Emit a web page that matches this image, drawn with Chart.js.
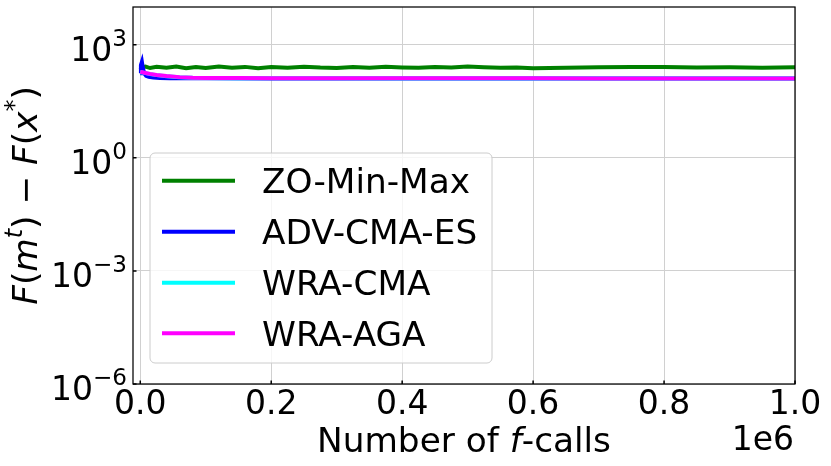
<!DOCTYPE html>
<html>
<head>
  <title>F(m^t) - F(x*) vs number of f-calls</title>
  <style>
    body {
      margin: 0;
      background: #fff;
    }
    #wrap {
      width: 831px;
      height: 466px;
    }
  </style>
</head>
<body>
  <div id="wrap"><canvas id="chart" width="831" height="466"></canvas></div>

  <script src="https://cdn.jsdelivr.net/npm/chart.js"></script>
  <script>
    // axis ticks
    const xTicks = [0, 200000, 400000, 600000, 800000, 1000000];
    const xTickLabels = ['0.0', '0.2', '0.4', '0.6', '0.8', '1.0'];
    const yTicks = [1e-6, 1e-3, 1, 1e3];
    const yTickExps = ['\u22126', '\u22123', '0', '3'];

    // series (x = number of f-calls)
    const seriesNames = ['ZO-Min-Max', 'ADV-CMA-ES', 'WRA-CMA', 'WRA-AGA'];
    const seriesColors = ['#008000', '#0000ff', '#00ffff', '#ff00ff'];

    const xZo = [0, 3000, 8000, 15000, 25000, 40000, 55000, 70000, 85000, 100000, 120000, 140000,
      160000, 180000, 200000, 225000, 250000, 275000, 300000, 325000, 350000, 375000, 400000,
      425000, 450000, 475000, 500000, 525000, 550000, 575000, 600000, 650000, 700000, 750000,
      800000, 850000, 900000, 950000, 1000000];
    const yZo = [215, 250, 262, 240, 258, 244, 262, 238, 255, 241, 263, 246,
      258, 239, 256, 243, 261, 247, 240, 257, 245, 262, 250,
      243, 258, 247, 266, 252, 243, 249, 238, 244, 252, 258,
      256, 250, 252, 246, 252];

    const xAdv = [0, 1000, 2500, 4000, 6000, 9000, 13000, 20000, 30000, 45000, 60000, 100000,
      200000, 400000, 600000, 800000, 1000000];
    const yAdv = [175, 290, 350, 240, 175, 150, 140, 134, 131, 129, 128, 128,
      127, 127, 127, 126, 126];

    const xWra = [0, 3000, 8000, 15000, 25000, 40000, 60000, 80000, 100000, 150000, 200000,
      300000, 400000, 500000, 600000, 700000, 800000, 900000, 1000000];
    const yWraCma = [188, 184, 176, 166, 156, 146, 137, 132, 130, 129, 128,
      128, 127, 127, 127, 127, 127, 126, 126];
    const yWraAga = [190, 186, 178, 168, 158, 147, 138, 133, 131, 130, 129,
      129, 128, 128, 128, 127, 127, 127, 126];

    const FONT = 'DejaVu Sans';
    const TICK_PX = 33;
    const TEXT_PX = 34.3;

    function pts(xs, ys) {
      return xs.map((x, i) => ({ x: x, y: ys[i] }));
    }

    // runs are [text, italic, superscript]
    function setRunFont(ctx, r, size) {
      ctx.font = (r[1] ? 'italic ' : '') + (r[2] ? size * 0.7 : size) + 'px ' + FONT;
    }
    function runsWidth(ctx, runs, size) {
      let w = 0;
      runs.forEach(r => {
        setRunFont(ctx, r, size);
        w += ctx.measureText(r[0]).width;
      });
      return w;
    }
    function drawRuns(ctx, runs, x, y, size) {
      runs.forEach(r => {
        setRunFont(ctx, r, size);
        ctx.fillText(r[0], x, r[2] ? y - size * 0.45 : y);
        x += ctx.measureText(r[0]).width;
      });
    }

    const decorations = {
      id: 'decorations',
      afterDraw(chart) {
        const ctx = chart.ctx;
        const a = chart.chartArea;
        const xs = chart.scales.x;
        const ys = chart.scales.y;
        ctx.save();
        ctx.fillStyle = '#000';
        ctx.strokeStyle = '#000';

        // frame
        ctx.lineWidth = 1.25;
        ctx.strokeRect(a.left, a.top, a.right - a.left, a.bottom - a.top);

        // tick marks (inward)
        ctx.lineWidth = 1.5;
        ctx.beginPath();
        xTicks.forEach(v => {
          const px = xs.getPixelForValue(v);
          ctx.moveTo(px, a.bottom);
          ctx.lineTo(px, a.bottom - 3.5);
        });
        yTicks.forEach(v => {
          const py = ys.getPixelForValue(v);
          ctx.moveTo(a.left, py);
          ctx.lineTo(a.left + 3.5, py);
        });
        ctx.stroke();

        // x tick labels
        ctx.textBaseline = 'alphabetic';
        ctx.textAlign = 'center';
        ctx.font = TICK_PX + 'px ' + FONT;
        xTicks.forEach((v, i) => {
          ctx.fillText(xTickLabels[i], xs.getPixelForValue(v), a.bottom + 30);
        });

        // y tick labels: 10^k
        ctx.textAlign = 'left';
        yTicks.forEach((v, i) => {
          const runs = [['10', false, false], [yTickExps[i], false, true]];
          const w = runsWidth(ctx, runs, TICK_PX);
          drawRuns(ctx, runs, a.left - 6 - w, ys.getPixelForValue(v) + 16, TICK_PX);
        });

        // x axis title
        const xRuns = [['Number of ', false, false], ['f', true, false], ['-calls', false, false]];
        const xw = runsWidth(ctx, xRuns, TEXT_PX);
        drawRuns(ctx, xRuns, (a.left + a.right) / 2 - xw / 2, 452, TEXT_PX);

        // offset text
        ctx.font = TICK_PX + 'px ' + FONT;
        ctx.textAlign = 'right';
        ctx.fillText('1e6', a.right - 1, 450);

        // y axis title
        ctx.textAlign = 'left';
        const yRuns = [['F', true, false], ['(', false, false], ['m', true, false], ['t', true, true],
          [') \u2212 ', false, false], ['F', true, false], ['(', false, false], ['x', true, false],
          ['*', false, true], [')', false, false]];
        const yw = runsWidth(ctx, yRuns, TEXT_PX);
        ctx.save();
        ctx.translate(37, (a.top + a.bottom) / 2);
        ctx.rotate(-Math.PI / 2);
        drawRuns(ctx, yRuns, -yw / 2, 0, TEXT_PX);
        ctx.restore();

        // legend
        const lx = 150, ly = 153, lw = 342, lh = 210;
        ctx.fillStyle = 'rgba(255,255,255,0.8)';
        ctx.strokeStyle = '#cccccc';
        ctx.lineWidth = 1;
        ctx.beginPath();
        ctx.roundRect(lx, ly, lw, lh, 5);
        ctx.fill();
        ctx.stroke();
        const rowY = [180.7, 231.7, 282.7, 333.3];
        ctx.font = TEXT_PX + 'px ' + FONT;
        seriesNames.forEach((name, i) => {
          ctx.strokeStyle = seriesColors[i];
          ctx.lineWidth = 4;
          ctx.beginPath();
          ctx.moveTo(162, rowY[i]);
          ctx.lineTo(235, rowY[i]);
          ctx.stroke();
          ctx.fillStyle = '#000';
          ctx.fillText(name, 262, rowY[i] + 12.7);
        });
        ctx.restore();
      }
    };

    const seriesData = [pts(xZo, yZo), pts(xAdv, yAdv), pts(xWra, yWraCma), pts(xWra, yWraAga)];

    new Chart(document.getElementById('chart').getContext('2d'), {
      type: 'line',
      data: {
        datasets: seriesNames.map((name, i) => ({
          label: name,
          data: seriesData[i],
          borderColor: seriesColors[i],
          backgroundColor: seriesColors[i],
          borderWidth: 4,
          pointRadius: 0,
          tension: 0,
          order: 4 - i
        }))
      },
      options: {
        responsive: false,
        animation: false,
        events: [],
        layout: {
          padding: { left: 133, top: 7, right: 36, bottom: 82 }
        },
        plugins: {
          legend: { display: false },
          tooltip: { enabled: false }
        },
        scales: {
          x: {
            type: 'linear',
            min: -11100,
            max: 1000000,
            afterBuildTicks: scale => { scale.ticks = xTicks.map(v => ({ value: v })); },
            ticks: { display: false },
            grid: { color: '#d0d0d0', lineWidth: 1, drawTicks: false },
            border: { display: false }
          },
          y: {
            type: 'logarithmic',
            min: 1e-6,
            max: 1e4,
            afterBuildTicks: scale => { scale.ticks = yTicks.map(v => ({ value: v })); },
            ticks: { display: false },
            grid: { color: '#d0d0d0', lineWidth: 1, drawTicks: false },
            border: { display: false }
          }
        }
      },
      plugins: [decorations]
    });
  </script>
</body>
</html>
